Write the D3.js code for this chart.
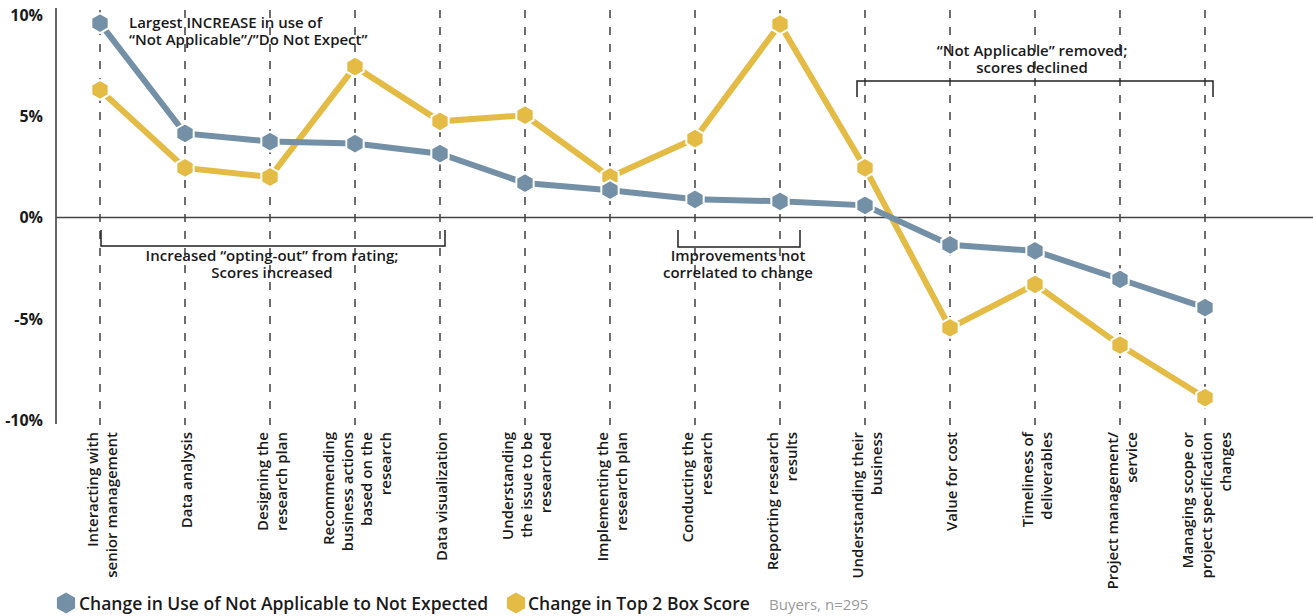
<!DOCTYPE html>
<html><head><meta charset="utf-8">
<script src="https://cdn.jsdelivr.net/npm/d3@7"></script>
<style>
body{margin:0;background:#fff;}
text{font-family:"Open Sans", Lato, sans-serif;fill:#1a1a1a;}
</style></head>
<body><svg id="c" width="1313" height="616"></svg>
<script>
const categories = [
  ["Interacting with","senior management"],
  ["Data analysis"],
  ["Designing the","research plan"],
  ["Recommending","business actions","based on the","research"],
  ["Data visualization"],
  ["Understanding","the issue to be","researched"],
  ["Implementing the","research plan"],
  ["Conducting the","research"],
  ["Reporting research","results"],
  ["Understanding their","business"],
  ["Value for cost"],
  ["Timeliness of","deliverables"],
  ["Project management/","service"],
  ["Managing scope or","project specification","changes"]
];
const notApplicable = [9.6, 4.15, 3.75, 3.65, 3.15, 1.7, 1.35, 0.9, 0.8, 0.6, -1.35, -1.65, -3.05, -4.45];
const top2Box = [6.3, 2.45, 2.0, 7.45, 4.75, 5.05, 2.0, 3.9, 9.55, 2.45, -5.45, -3.3, -6.3, -8.9];
const yTicks = [10, 5, 0, -5, -10];
const seriesNames = ["Change in Use of Not Applicable to Not Expected", "Change in Top 2 Box Score"];
const colors = ["#7490a6", "#e4bc45"];

const svg = d3.select("#c");
const x = d3.scalePoint().domain(d3.range(categories.length)).range([100, 1205]);
const y = d3.scaleLinear().domain([-10, 10]).range([420, 15]);

// y tick labels
svg.append("g").selectAll("text").data(yTicks).join("text")
  .attr("x", 43).attr("y", d => y(d)).attr("dy", "0.36em")
  .attr("text-anchor", "end").attr("font-size", 16).attr("font-weight", 700)
  .text(d => d + "%");

// y axis line
svg.append("line").attr("x1", 56).attr("x2", 56).attr("y1", 8).attr("y2", 424)
  .attr("stroke", "#333").attr("stroke-width", 1.5);

// dashed verticals
svg.append("g").selectAll("line").data(categories).join("line")
  .attr("x1", (d, i) => x(i)).attr("x2", (d, i) => x(i))
  .attr("y1", 10).attr("y2", 425)
  .attr("stroke", "#222").attr("stroke-width", 1.3).attr("stroke-dasharray", "8,9");

// zero line
svg.append("line").attr("x1", 56).attr("x2", 1313).attr("y1", y(0)).attr("y2", y(0))
  .attr("stroke", "#444").attr("stroke-width", 1.5);

// x labels
const lab = svg.append("g").selectAll("g").data(categories).join("g")
  .attr("transform", (d, i) => `translate(${x(i)},432) rotate(-90)`);
lab.each(function(lines) {
  const n = lines.length;
  const t = d3.select(this).append("text").attr("text-anchor", "end")
    .attr("font-size", 15).attr("font-weight", 600);
  lines.forEach((l, j) => {
    t.append("tspan").attr("x", 0).attr("y", (j - (n - 1) / 2) * 19 + 1)
      .attr("dominant-baseline", "central").text(l);
  });
});

// hexagon path
function hex(r) {
  const p = d3.path();
  for (let k = 0; k < 6; k++) {
    const a = (-90 + 60 * k) * Math.PI / 180;
    const px = r * Math.cos(a), py = r * Math.sin(a);
    if (k === 0) p.moveTo(px, py); else p.lineTo(px, py);
  }
  p.closePath();
  return p.toString();
}

const line = d3.line().x((d, i) => x(i)).y(d => y(d));
[top2Box, notApplicable].forEach((vals, si) => {
  const c = si === 0 ? colors[1] : colors[0];
  const g = svg.append("g");
  g.append("path").attr("d", line(vals)).attr("fill", "none")
    .attr("stroke", c).attr("stroke-width", 6);
  g.selectAll("path.m").data(vals).join("path").attr("class", "m")
    .attr("d", hex(10)).attr("transform", (d, i) => `translate(${x(i)},${y(d)})`)
    .attr("fill", c).attr("stroke", "#fff").attr("stroke-width", 2);
});

// annotations (each a single text block with two lines)
const ann = svg.append("g").attr("font-size", 15).attr("font-weight", 600);
function note(xp, y1, anchor, lines) {
  const t = ann.append("text").attr("text-anchor", anchor);
  lines.forEach((l, j) => t.append("tspan").attr("x", xp).attr("y", y1 + j * 17).text(l));
}
note(129, 28, "start", ["Largest INCREASE in use of", "\u201CNot Applicable\u201D/\u201DDo Not Expect\u201D"]);
note(1032, 56, "middle", ["\u201CNot Applicable\u201D removed;", "scores declined"]);
note(272, 261, "middle", ["Increased \u201Copting-out\u201D from rating;", "Scores increased"]);
note(738, 261, "middle", ["Improvements not", "correlated to change"]);

const br = svg.append("g").attr("fill", "none").attr("stroke", "#222").attr("stroke-width", 1.5);
br.append("path").attr("d", "M857,97V81H1213V97");
br.append("path").attr("d", "M101,230V246H445V230");
br.append("path").attr("d", "M678,230V247H800V230");

// legend
const leg = svg.append("g");
const legItems = [{x: 66, tx: 79, c: colors[0], t: seriesNames[0]}, {x: 516, tx: 528, c: colors[1], t: seriesNames[1]}];
legItems.forEach(d => {
  leg.append("path").attr("d", hex(10.5)).attr("transform", `translate(${d.x},603)`).attr("fill", d.c);
  leg.append("text").attr("x", d.tx).attr("y", 610).attr("font-size", 17.5).attr("font-weight", 600).text(d.t);
});
leg.append("text").attr("x", 769).attr("y", 610).attr("font-size", 15).style("fill", "#999").text("Buyers, n=295");
</script></body></html>
